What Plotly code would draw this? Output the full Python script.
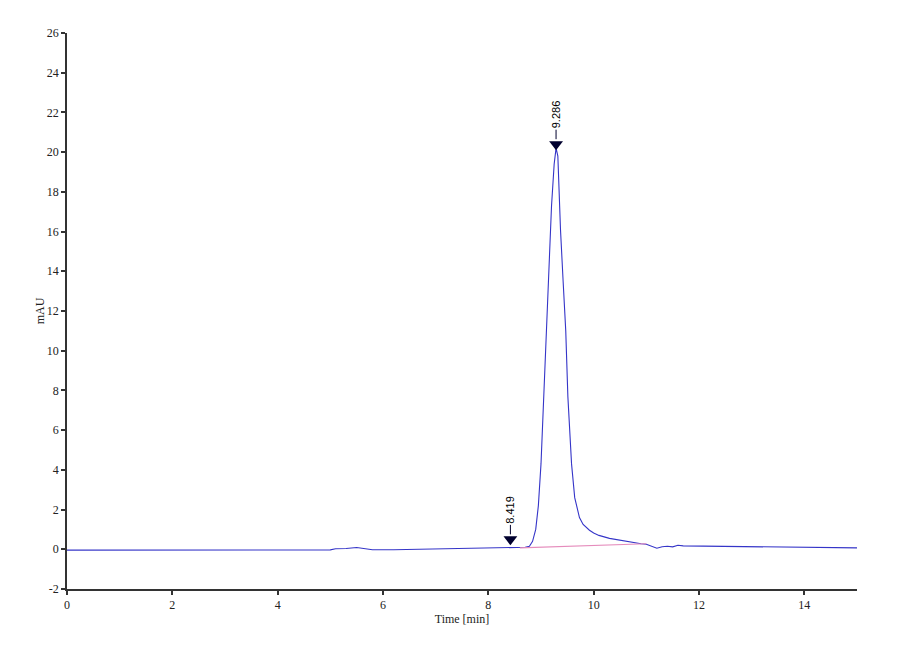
import plotly.graph_objects as go

# chromatogram trace (time in min, signal in mAU)
time = [0.0, 1.0, 2.0, 3.0, 4.0, 5.0, 5.1, 5.3, 5.5, 5.6, 5.8, 6.2, 6.6, 7.0, 7.5,
        8.0, 8.4, 8.7, 8.78, 8.84, 8.90, 8.95, 9.00, 9.05, 9.10, 9.15, 9.20, 9.25,
        9.286, 9.32, 9.37, 9.42, 9.47, 9.51, 9.55, 9.58, 9.64, 9.70, 9.73, 9.80,
        9.92, 10.0, 10.1, 10.3, 10.6, 10.9, 11.0, 11.1, 11.2, 11.3, 11.4, 11.5,
        11.6, 11.7, 12.0, 12.5, 13.0, 13.5, 14.0, 14.5, 15.0]
mau = [-0.04, -0.04, -0.04, -0.04, -0.04, -0.03, 0.03, 0.04, 0.09, 0.05, -0.02,
       -0.02, 0.0, 0.02, 0.04, 0.06, 0.08, 0.1, 0.15, 0.4, 1.0, 2.2, 4.3, 7.5,
       11.0, 14.3, 17.3, 19.4, 20.2, 19.8, 16.1, 13.5, 11.0, 7.7, 5.6, 4.3, 2.6,
       1.9, 1.6, 1.25, 0.96, 0.82, 0.7, 0.55, 0.4, 0.28, 0.25, 0.15, 0.05, 0.13,
       0.15, 0.12, 0.2, 0.17, 0.16, 0.14, 0.14, 0.1, 0.09, 0.08, 0.07]

# integration baseline under the main peak
base_time = [8.6, 11.0]
base_mau = [0.07, 0.28]

# peak labels
peak_time = [8.419, 9.286]
peak_mau = [0.5, 20.4]
peak_text = ["8.419", "9.286"]

# axis ticks
x_ticks = [0, 2, 4, 6, 8, 10, 12, 14]
y_ticks = [-2, 0, 2, 4, 6, 8, 10, 12, 14, 16, 18, 20, 22, 24, 26]

serif = "Liberation Serif"

fig = go.Figure()
fig.add_trace(go.Scatter(x=time, y=mau, mode="lines",
                         line=dict(color="#3535c8", width=1.1), showlegend=False))
fig.add_trace(go.Scatter(x=base_time, y=base_mau, mode="lines",
                         line=dict(color="#e58cbc", width=1.2), showlegend=False))
fig.add_trace(go.Scatter(x=peak_time, y=peak_mau, mode="markers",
                         marker=dict(symbol="triangle-down", size=12, color="#00002e"),
                         showlegend=False))

for t, h, s in zip(peak_time, peak_mau, peak_text):
    fig.add_annotation(x=t, y=h, text=s, textangle=-90, showarrow=True,
                       arrowhead=0, arrowwidth=1, arrowcolor="#00002e",
                       ax=0, ay=-30, standoff=5,
                       font=dict(family="Liberation Sans", size=11, color="#000000"))

axis_style = dict(showline=True, linecolor="#333333", linewidth=1.5,
                  ticks="outside", ticklen=4, tickwidth=1.5, tickcolor="#333333",
                  showgrid=False, zeroline=False,
                  tickfont=dict(family=serif, size=12, color="#222222"))

fig.update_xaxes(range=[0, 15], tickvals=x_ticks, ticktext=[str(v) for v in x_ticks],
                 title=dict(text="Time [min]", font=dict(family=serif, size=12, color="#222222"), standoff=1),
                 **axis_style)
fig.update_yaxes(range=[-2, 26], tickvals=y_ticks, ticktext=[str(v) for v in y_ticks],
                 title=dict(text="mAU", font=dict(family=serif, size=12, color="#222222"), standoff=0),
                 **axis_style)

fig.update_layout(width=900, height=660, plot_bgcolor="white", paper_bgcolor="white",
                  margin=dict(l=59, r=51, t=25, b=79))

fig.write_html("out.html")
